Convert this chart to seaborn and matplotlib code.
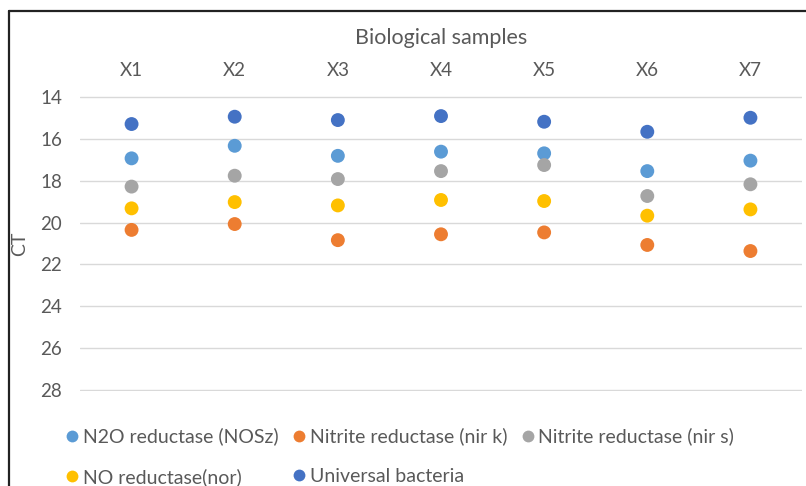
import matplotlib
matplotlib.use("Agg")
import matplotlib.pyplot as plt
from matplotlib.lines import Line2D
import seaborn as sns
import pandas as pd

samples = ["X1", "X2", "X3", "X4", "X5", "X6", "X7"]
series_names = ["N2O reductase (NOSz)", "Nitrite reductase (nir k)", "Nitrite reductase (nir s)",
                "NO reductase(nor)", "Universal bacteria"]
n2o_nosz = [16.93, 16.33, 16.81, 16.61, 16.69, 17.54, 17.04]
nitrite_nirk = [20.35, 20.07, 20.84, 20.56, 20.47, 21.07, 21.36]
nitrite_nirs = [18.28, 17.76, 17.92, 17.54, 17.25, 18.73, 18.17]
no_nor = [19.32, 19.02, 19.18, 18.92, 18.97, 19.67, 19.37]
universal = [15.29, 14.94, 15.10, 14.91, 15.18, 15.66, 14.99]
y_ticks = [14, 16, 18, 20, 22, 24, 26, 28]
colors = ["#5B9BD5", "#ED7D31", "#A5A5A5", "#FFC000", "#4472C4"]

values = [n2o_nosz, nitrite_nirk, nitrite_nirs, no_nor, universal]
rows = []
for name, vals in zip(series_names, values):
    for s, v in zip(samples, vals):
        rows.append({"Sample": s, "CT": v, "Series": name})
df = pd.DataFrame(rows)

sns.set_theme(style="white")
plt.rcParams["font.family"] = ["Lato", "DejaVu Sans"]
text_color = "#595959"

fig = plt.figure(figsize=(8.06, 4.86), dpi=100)
ax = fig.add_axes([80 / 806, 1 - 391 / 486, 722 / 806, (391 - 96) / 486])

sns.stripplot(data=df, x="Sample", y="CT", hue="Series", order=samples, hue_order=series_names,
              palette=colors, jitter=False, dodge=False, size=10, linewidth=0, ax=ax, zorder=3)

ax.set_ylim(28.05, 13.95)
ax.set_xlim(-0.5, 6.5)
ax.set_yticks(y_ticks)
ax.yaxis.grid(True, color="#D9D9D9", linewidth=1.0)
ax.xaxis.grid(False)
for sp in ax.spines.values():
    sp.set_visible(False)
ax.xaxis.tick_top()
ax.xaxis.set_label_position("top")
ax.tick_params(axis="x", length=0, pad=12, labelsize=13.5, labelcolor=text_color)
ax.tick_params(axis="y", length=0, pad=13, labelsize=13.5, labelcolor=text_color)
ax.set_xlabel("Biological samples", fontsize=15.5, color=text_color, labelpad=13.5)
ax.set_ylabel("CT", fontsize=14, color=text_color)
ax.yaxis.set_label_coords(-0.072, 0.5)

handles, labels = ax.get_legend_handles_labels()
ax.get_legend().remove()
order = [0, 3, 1, 4, 2]
leg = fig.legend([handles[i] for i in order], [labels[i] for i in order], ncol=3,
                 loc="upper left", bbox_to_anchor=(44 / 806, 1 - 410 / 486), frameon=False,
                 fontsize=14, labelspacing=1.15, columnspacing=0.5, handletextpad=0.0,
                 handlelength=1.1, markerscale=0.85)
for t in leg.get_texts():
    t.set_color(text_color)

# outer chart frame (cropped)
fig.add_artist(Line2D([9 / 806, 9 / 806], [0, 1 - 11 / 486], transform=fig.transFigure,
                      color="#222222", linewidth=1.6))
fig.add_artist(Line2D([9 / 806, 1], [1 - 11 / 486, 1 - 11 / 486], transform=fig.transFigure,
                      color="#222222", linewidth=1.6))

fig.savefig("out.png", dpi=100)
